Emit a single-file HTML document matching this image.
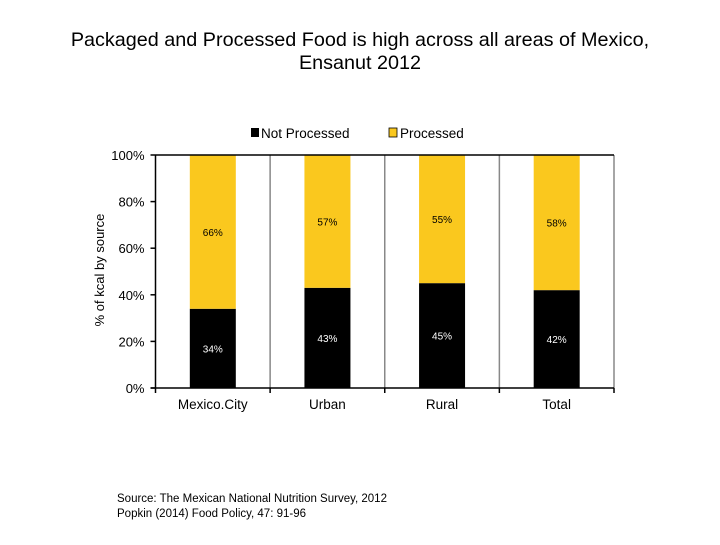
<!DOCTYPE html>
<html><head><meta charset="utf-8"><style>
body{margin:0;background:#fff;width:720px;height:540px;overflow:hidden;font-family:"Liberation Sans",sans-serif}
</style></head><body>
<svg width="720" height="540" font-family="Liberation Sans, sans-serif">
<text x="360" y="46" text-anchor="middle" font-size="19.8">Packaged and Processed Food is high across all areas of Mexico,</text>
<text x="360" y="69" text-anchor="middle" font-size="19.8">Ensanut 2012</text>
<g>
<rect x="251" y="128" width="8" height="9" fill="#000"/>
<text x="261" y="138" font-size="13.5">Not Processed</text>
<rect x="389" y="128" width="8" height="9" fill="#fac81e" stroke="#000" stroke-width="0.8"/>
<text x="400" y="138" font-size="13.5">Processed</text>
</g>
<text transform="translate(104,270) rotate(-90)" text-anchor="middle" font-size="13">% of kcal by source</text>
<g id="plot"></g>
<text x="117" y="502" font-size="11.5">Source: The Mexican National Nutrition Survey, 2012</text>
<text x="117" y="517" font-size="11.5">Popkin (2014) Food Policy, 47: 91-96</text>
</svg>
<script>
const categories=["Mexico.City","Urban","Rural","Total"];
const notProcessed=[34,43,45,42];
const processed=[66,57,55,58];
const yTicks=[0,20,40,60,80,100];
const NS="http://www.w3.org/2000/svg";
const g=document.getElementById('plot');
const L=155.5,R=614,T=155,B=388;
const cw=(R-L)/categories.length;
const y=v=>B-(v/100)*(B-T);
const xc=i=>L+cw*(i+0.5);
function mk(t,a){const e=document.createElementNS(NS,t);for(const k in a)e.setAttribute(k,a[k]);g.appendChild(e);return e;}
categories.forEach((c,i)=>{
  const x0=xc(i)-23,w=46;
  const b1=mk('rect',{x:x0,y:y(notProcessed[i]),width:w,height:B-y(notProcessed[i]),fill:'#000'});
  
  
  const top=notProcessed[i]+processed[i];
  const b2=mk('rect',{x:x0,y:y(top),width:w,height:y(notProcessed[i])-y(top),fill:'#fac81e'});
  
  
  const t1=mk('text',{x:xc(i),y:y(notProcessed[i]/2)+4,'text-anchor':'middle','font-size':'10',fill:'#fff'});
  t1.textContent=notProcessed[i]+'%';
  
  
  const t2=mk('text',{x:xc(i),y:y(notProcessed[i]+processed[i]/2)+4,'text-anchor':'middle','font-size':'10',fill:'#000'});
  t2.textContent=processed[i]+'%';
  
  
  const sep=mk('line',{x1:L+cw*(i+1),x2:L+cw*(i+1),y1:T,y2:B,stroke:'#888','stroke-width':1.5});
  
  
  const tk=mk('line',{x1:L+cw*(i+1),x2:L+cw*(i+1),y1:B,y2:B+5,stroke:'#000','stroke-width':1.5});
  
  
  const cl=mk('text',{x:xc(i),y:B+21,'text-anchor':'middle','font-size':'13.5'});
  cl.textContent=c;
  
  
});
const topLine=mk('line',{x1:L,x2:R,y1:T,y2:T,stroke:'#000','stroke-width':1.5});


const ax=mk('line',{x1:L,x2:L,y1:T,y2:B+5,stroke:'#000','stroke-width':1.5});


const xa=mk('line',{x1:L-5,x2:R,y1:B,y2:B,stroke:'#000','stroke-width':1.5});


yTicks.forEach(v=>{
  const t=mk('line',{x1:L-5,x2:L,y1:y(v),y2:y(v),stroke:'#000','stroke-width':1.5});
  
  
  const l=mk('text',{x:L-11,y:y(v)+5,'text-anchor':'end','font-size':'13'});
  l.textContent=v+'%';
  
  
});
</script>
</body></html>
